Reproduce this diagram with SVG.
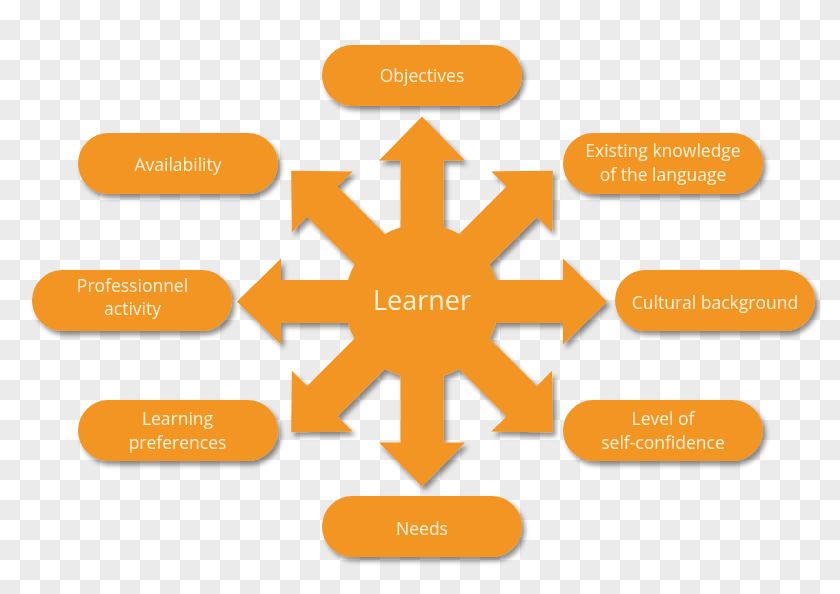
<svg xmlns="http://www.w3.org/2000/svg" width="840" height="594" viewBox="0 0 840 594">
<defs>
  <filter id="sh" x="-20%" y="-20%" width="140%" height="150%">
    <feGaussianBlur in="SourceAlpha" stdDeviation="2.5"/>
    <feOffset dx="3" dy="4" result="b"/>
    <feComponentTransfer><feFuncA type="linear" slope="0.45"/></feComponentTransfer>
    <feMerge><feMergeNode/><feMergeNode in="SourceGraphic"/></feMerge>
  </filter>
  <path id="arrow" d="M0,-21.5 L141,-21.5 L141,-43 L185,0 L141,43 L141,21.5 L0,21.5 Z"/>
</defs>
<style>
  .pill { fill: #f39521; }
  .arr { fill: #f39521; }
  .t { font-family: "Open Sans", "Liberation Sans", sans-serif; font-size: 17.5px; fill: #fff3dc; text-anchor: middle; }
  .big { font-size: 27px; }
  .ck line { stroke: #ebebeb; stroke-width: 20; stroke-dasharray: 20 20; }
</style>
<rect width="840" height="594" fill="#ffffff"/>
<g class="ck">
  <line x1="20" y1="10" x2="840" y2="10"/>
  <line x1="0" y1="30" x2="840" y2="30"/>
  <line x1="20" y1="50" x2="840" y2="50"/>
  <line x1="0" y1="70" x2="840" y2="70"/>
  <line x1="20" y1="90" x2="840" y2="90"/>
  <line x1="0" y1="110" x2="840" y2="110"/>
  <line x1="20" y1="130" x2="840" y2="130"/>
  <line x1="0" y1="150" x2="840" y2="150"/>
  <line x1="20" y1="170" x2="840" y2="170"/>
  <line x1="0" y1="190" x2="840" y2="190"/>
  <line x1="20" y1="210" x2="840" y2="210"/>
  <line x1="0" y1="230" x2="840" y2="230"/>
  <line x1="20" y1="250" x2="840" y2="250"/>
  <line x1="0" y1="270" x2="840" y2="270"/>
  <line x1="20" y1="290" x2="840" y2="290"/>
  <line x1="0" y1="310" x2="840" y2="310"/>
  <line x1="20" y1="330" x2="840" y2="330"/>
  <line x1="0" y1="350" x2="840" y2="350"/>
  <line x1="20" y1="370" x2="840" y2="370"/>
  <line x1="0" y1="390" x2="840" y2="390"/>
  <line x1="20" y1="410" x2="840" y2="410"/>
  <line x1="0" y1="430" x2="840" y2="430"/>
  <line x1="20" y1="450" x2="840" y2="450"/>
  <line x1="0" y1="470" x2="840" y2="470"/>
  <line x1="20" y1="490" x2="840" y2="490"/>
  <line x1="0" y1="510" x2="840" y2="510"/>
  <line x1="20" y1="530" x2="840" y2="530"/>
  <line x1="0" y1="550" x2="840" y2="550"/>
  <line x1="20" y1="570" x2="840" y2="570"/>
  <line x1="0" y1="590" x2="840" y2="590"/>
</g>
<g filter="url(#sh)">
  <g id="connectors" class="arr">
    <use href="#arrow" transform="translate(422,301.5) rotate(-90)"/>
    <use href="#arrow" transform="translate(422,301.5) rotate(-45)"/>
    <use href="#arrow" transform="translate(422,301.5) rotate(0)"/>
    <use href="#arrow" transform="translate(422,301.5) rotate(45)"/>
    <use href="#arrow" transform="translate(422,301.5) rotate(90)"/>
    <use href="#arrow" transform="translate(422,301.5) rotate(135)"/>
    <use href="#arrow" transform="translate(422,301.5) rotate(180)"/>
    <use href="#arrow" transform="translate(422,301.5) rotate(225)"/>
  </g>
  <g id="learner">
    <circle cx="422" cy="301.5" r="77" class="pill"/>
    <text x="422" y="309.5" class="t big">Learner</text>
  </g>
</g>
<g id="objectives" filter="url(#sh)">
  <rect x="322" y="45" width="200" height="61" rx="30.5" class="pill"/>
  <text x="422" y="81.5" class="t">Objectives</text>
</g>
<g id="needs" filter="url(#sh)">
  <rect x="322" y="496" width="200" height="61" rx="30.5" class="pill"/>
  <text x="422" y="534.5" class="t">Needs</text>
</g>
<g id="availability" filter="url(#sh)">
  <rect x="78" y="133" width="200" height="61" rx="30.5" class="pill"/>
  <text x="178" y="170.5" class="t">Availability</text>
</g>
<g id="professionnel" filter="url(#sh)">
  <rect x="32" y="270" width="200" height="61" rx="30.5" class="pill"/>
  <text x="132.5" y="291.5" class="t">Professionnel</text>
  <text x="132.5" y="315" class="t">activity</text>
</g>
<g id="learning" filter="url(#sh)">
  <rect x="78" y="400" width="200" height="61" rx="30.5" class="pill"/>
  <text x="177.5" y="425" class="t">Learning</text>
  <text x="177.5" y="448.5" class="t">preferences</text>
</g>
<g id="existing" filter="url(#sh)">
  <rect x="563" y="133" width="200" height="61" rx="30.5" class="pill"/>
  <text x="663" y="157" class="t">Existing knowledge</text>
  <text x="663" y="180.5" class="t">of the language</text>
</g>
<g id="cultural" filter="url(#sh)">
  <rect x="615" y="270" width="200" height="61" rx="30.5" class="pill"/>
  <text x="715" y="308.5" class="t">Cultural background</text>
</g>
<g id="level" filter="url(#sh)">
  <rect x="563" y="400" width="200" height="61" rx="30.5" class="pill"/>
  <text x="663" y="425" class="t">Level of</text>
  <text x="663" y="448.5" class="t">self-confidence</text>
</g>
</svg>
